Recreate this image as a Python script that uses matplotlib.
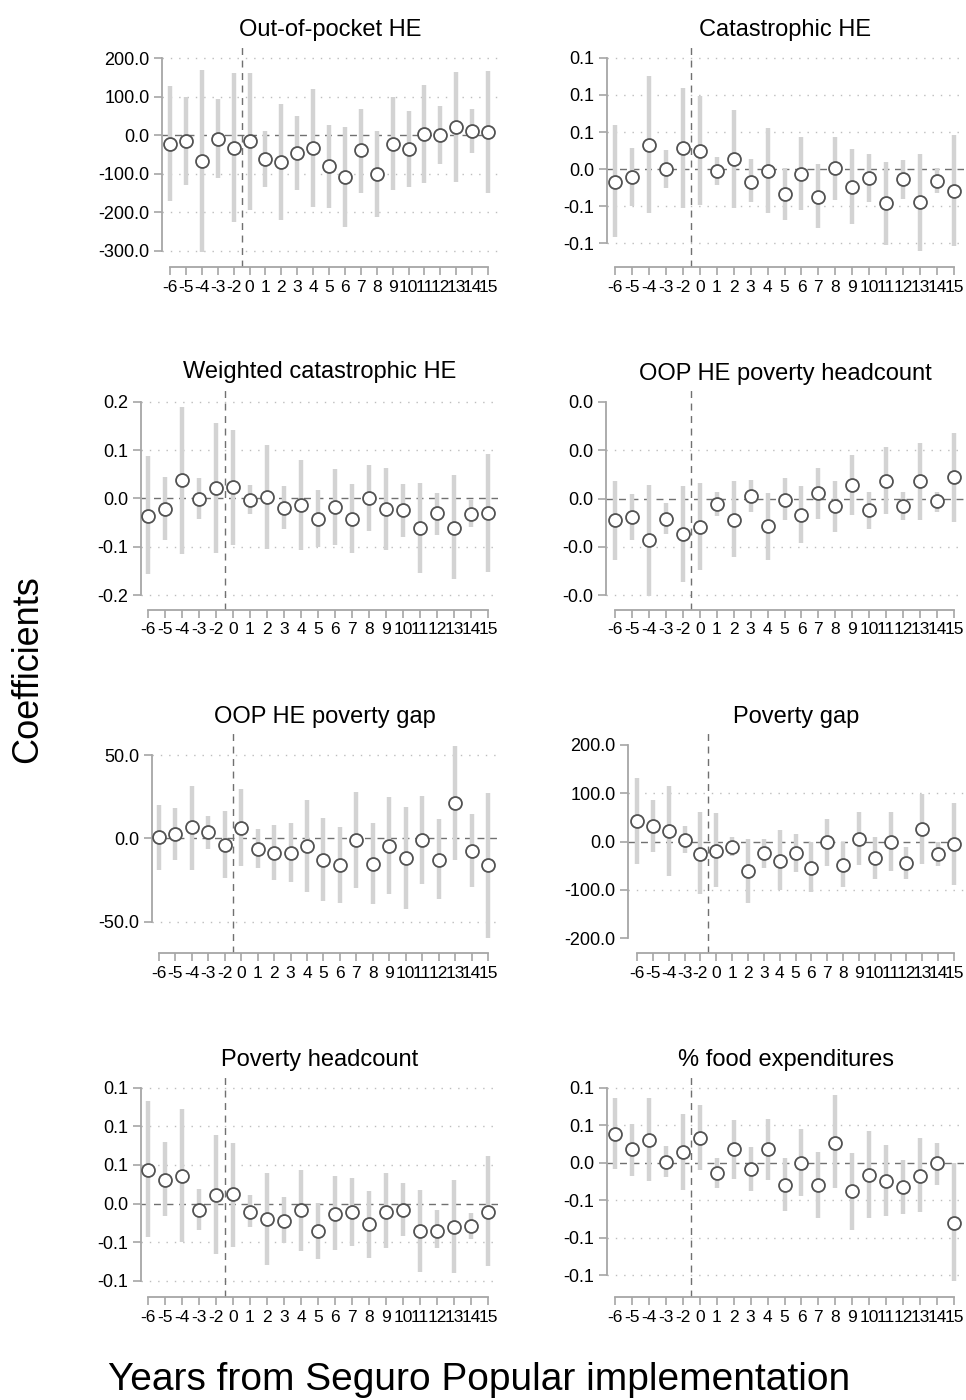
import matplotlib
matplotlib.use("Agg")
import matplotlib.pyplot as plt
import numpy as np

plt.rcParams['font.family'] = ['Liberation Sans', 'DejaVu Sans']

# Event time (year -1 is the omitted reference period)
years = [-6, -5, -4, -3, -2, 0, 1, 2, 3, 4, 5, 6, 7, 8, 9, 10, 11, 12, 13, 14, 15]
year_labels = [str(y) for y in years]

# Out-of-pocket health expenditure
oop_coef = [-22, -15, -67, -9, -32, -16, -61, -70, -45, -32, -81, -108, -39, -100, -22, -36, 3, 0, 20, 11, 9]
oop_hi = [127, 100, 169, 93, 160, 160, 11, 82, 50, 121, 26, 20, 69, 11, 100, 62, 130, 76, 165, 67, 166]
oop_lo = [-171, -130, -303, -110, -225, -193, -133, -221, -143, -186, -188, -237, -150, -211, -141, -133, -124, -75, -120, -46, -150]
oop_ticks = [200, 100, 0, -100, -200, -300]

# Catastrophic health expenditure
cat_coef = [-0.017, -0.011, 0.033, 0.0, 0.028, 0.025, -0.003, 0.013, -0.017, -0.002, -0.033, -0.007, -0.037, 0.001, -0.024, -0.012, -0.046, -0.014, -0.045, -0.016, -0.030]
cat_hi = [0.059, 0.028, 0.126, 0.026, 0.110, 0.098, 0.016, 0.079, 0.013, 0.056, 0.002, 0.043, 0.007, 0.043, 0.027, 0.021, 0.010, 0.012, 0.020, 0.001, 0.046]
cat_lo = [-0.092, -0.050, -0.059, -0.026, -0.053, -0.048, -0.021, -0.053, -0.044, -0.059, -0.068, -0.055, -0.080, -0.041, -0.074, -0.044, -0.102, -0.040, -0.110, -0.032, -0.104]
cat_ticks = [0.15, 0.10, 0.05, 0.0, -0.05, -0.10]

# Weighted catastrophic health expenditure
wcat_coef = [-0.036, -0.021, 0.038, -0.002, 0.022, 0.023, -0.003, 0.002, -0.019, -0.014, -0.042, -0.017, -0.043, 0.001, -0.021, -0.024, -0.062, -0.031, -0.061, -0.033, -0.030]
wcat_hi = [0.087, 0.045, 0.189, 0.042, 0.157, 0.142, 0.028, 0.111, 0.026, 0.080, 0.017, 0.062, 0.029, 0.069, 0.064, 0.029, 0.033, 0.012, 0.048, -0.003, 0.093]
wcat_lo = [-0.157, -0.085, -0.114, -0.042, -0.112, -0.096, -0.033, -0.105, -0.064, -0.107, -0.100, -0.096, -0.113, -0.067, -0.106, -0.080, -0.154, -0.075, -0.166, -0.060, -0.152]
wcat_ticks = [0.2, 0.1, 0.0, -0.1, -0.2]

# OOP HE poverty headcount
oph_coef = [-0.0045, -0.0038, -0.0085, -0.0043, -0.0074, -0.0059, -0.0012, -0.0044, 0.0005, -0.0057, -0.0003, -0.0035, 0.0012, -0.0016, 0.0028, -0.0024, 0.0037, -0.0016, 0.0036, -0.0006, 0.0044]
oph_hi = [0.0036, 0.0010, 0.0029, -0.0010, 0.0026, 0.0033, 0.0014, 0.0036, 0.0039, 0.0012, 0.0042, 0.0026, 0.0064, 0.0036, 0.0090, 0.0014, 0.0106, 0.0014, 0.0114, 0.0014, 0.0135]
oph_lo = [-0.0127, -0.0087, -0.0201, -0.0073, -0.0173, -0.0149, -0.0036, -0.0122, -0.0028, -0.0127, -0.0045, -0.0093, -0.0042, -0.0069, -0.0035, -0.0064, -0.0033, -0.0044, -0.0044, -0.0028, -0.0048]
oph_ticks = [0.02, 0.01, 0.0, -0.01, -0.02]

# OOP HE poverty gap
opg_coef = [1, 2.6, 6.6, 4, -3.6, 6.4, -6.4, -8.4, -8.4, -4.6, -12.6, -16, -1, -15.4, -4.4, -11.6, -1, -12.6, 21.4, -7.4, -16]
opg_hi = [20, 18.4, 31.6, 13.4, 16.6, 29.6, 5.4, 8, 9, 23, 12, 6.6, 27.6, 9, 25, 19, 25.6, 11.4, 55.6, 14.4, 27.4]
opg_lo = [-19, -13, -19, -6, -23.4, -16.6, -17.4, -25, -26, -32, -37.4, -38.6, -29.6, -39, -33.4, -42, -27, -36, -13, -29, -59.4]
opg_ticks = [50, 0, -50]

# Poverty gap
pg_coef = [43, 32, 22, 3, -26, -19, -12, -62, -24, -40, -24, -54, -1, -48, 5, -34, 0, -45, 26, -26, -5]
pg_hi = [131, 86, 115, 32, 62, 59, 10, 6, 6, 23, 16, 0, 47, 0, 61, 10, 61, -12, 99, 0, 79]
pg_lo = [-46, -22, -72, -24, -108, -94, -31, -128, -55, -101, -64, -105, -50, -95, -48, -78, -62, -77, -46, -50, -91]
pg_ticks = [200, 100, 0, -100, -200]

# Poverty headcount
ph_coef = [0.044, 0.031, 0.036, -0.008, 0.011, 0.012, -0.011, -0.020, -0.022, -0.009, -0.036, -0.013, -0.011, -0.026, -0.011, -0.009, -0.036, -0.035, -0.030, -0.029, -0.011]
ph_hi = [0.133, 0.080, 0.122, 0.019, 0.089, 0.079, 0.011, 0.040, 0.008, 0.044, 0.001, 0.036, 0.033, 0.016, 0.039, 0.026, 0.018, -0.009, 0.030, -0.012, 0.062]
ph_lo = [-0.043, -0.016, -0.050, -0.034, -0.065, -0.056, -0.030, -0.080, -0.051, -0.062, -0.072, -0.060, -0.055, -0.070, -0.058, -0.042, -0.089, -0.058, -0.090, -0.046, -0.081]
ph_ticks = [0.15, 0.10, 0.05, 0.0, -0.05, -0.10]

# Share of food expenditures
food_coef = [0.039, 0.018, 0.031, 0.001, 0.014, 0.033, -0.014, 0.018, -0.008, 0.018, -0.029, 0.0, -0.030, 0.027, -0.038, -0.016, -0.024, -0.032, -0.017, 0.0, -0.080]
food_hi = [0.087, 0.052, 0.086, 0.023, 0.065, 0.077, 0.006, 0.057, 0.021, 0.058, 0.007, 0.045, 0.014, 0.090, 0.013, 0.042, 0.024, 0.004, 0.033, 0.027, 0.0]
food_lo = [-0.008, -0.017, -0.024, -0.019, -0.036, -0.009, -0.034, -0.022, -0.038, -0.023, -0.064, -0.044, -0.073, -0.034, -0.089, -0.074, -0.071, -0.068, -0.065, -0.029, -0.158]
food_ticks = [0.10, 0.05, 0.0, -0.05, -0.10, -0.15]

titles = ["Out-of-pocket HE", "Catastrophic HE", "Weighted catastrophic HE",
          "OOP HE poverty headcount", "OOP HE poverty gap", "Poverty gap",
          "Poverty headcount", "% food expenditures"]

panels = [
    (oop_coef, oop_lo, oop_hi, oop_ticks, oop_ticks),
    (cat_coef, cat_lo, cat_hi, cat_ticks, cat_ticks),
    (wcat_coef, wcat_lo, wcat_hi, wcat_ticks, wcat_ticks),
    (oph_coef, oph_lo, oph_hi, oph_ticks, oph_ticks[1:]),
    (opg_coef, opg_lo, opg_hi, opg_ticks, opg_ticks),
    (pg_coef, pg_lo, pg_hi, pg_ticks, pg_ticks[1:-1]),
    (ph_coef, ph_lo, ph_hi, ph_ticks, ph_ticks),
    (food_coef, food_lo, food_hi, food_ticks, food_ticks),
]

# Layout in pixels: (left, top, right, bottom), x of first/last year tick, y limits
W, H = 966, 1400
frames = [
    ((162, 43, 498, 267), (170, 488), (-341.5, 238.9)),
    ((607, 43, 964, 267), (615, 954), (-0.132, 0.170)),
    ((141, 385, 498, 610), (148, 488), (-0.231, 0.235)),
    ((606, 387, 964, 610), (615, 954), (-0.0231, 0.0231)),
    ((152, 730, 498, 953), (159, 488), (-68.6, 65.0)),
    ((628, 730, 964, 953), (637, 954), (-231.0, 231.0)),
    ((141, 1073, 498, 1297), (148, 488), (-0.121, 0.169)),
    ((607, 1073, 964, 1297), (615, 954), (-0.179, 0.120)),
]

SPINE = '#a6a6a6'
BAR = '#d3d3d3'
EDGE = '#525252'
DASH = '#707070'
GRID = '#bdbdbd'

fig = plt.figure(figsize=(W / 100, H / 100), dpi=100)
fig.patch.set_facecolor('white')

idx = np.arange(len(years))
for title, (coef, lo, hi, ticks, grid), (box, xpix, ylim) in zip(titles, panels, frames):
    L, T, R, B = box
    ax = fig.add_axes([L / W, 1 - B / H, (R - L) / W, (B - T) / H])
    sp = (xpix[1] - xpix[0]) / (len(years) - 1)
    ax.set_xlim((L - xpix[0]) / sp, (R - xpix[0]) / sp)
    ax.set_ylim(*ylim)

    for g in grid:
        if g != 0:
            ax.axhline(g, color=GRID, lw=1.0, ls=(0, (1, 5)), zorder=0)
    ax.axhline(0, color=DASH, lw=1.0, ls=(0, (5, 4)), zorder=1)
    ax.axvline(4.5, color=DASH, lw=1.0, ls=(0, (5, 4)), zorder=1)

    ax.vlines(idx, lo, hi, color=BAR, lw=3.2, zorder=2, capstyle='butt')
    ax.plot(idx, coef, 'o', ms=9.3, mfc='white', mec=EDGE, mew=1.3, zorder=3)

    ax.set_yticks(ticks, labels=[f"{t:.1f}" for t in ticks])
    ax.set_xticks(idx, labels=year_labels)
    for s in ('top', 'right'):
        ax.spines[s].set_visible(False)
    for s in ('left', 'bottom'):
        ax.spines[s].set_color(SPINE)
        ax.spines[s].set_linewidth(1.3)
    ax.spines['left'].set_bounds(min(ticks), max(ticks))
    ax.spines['bottom'].set_bounds(idx[0], idx[-1])
    ax.tick_params(axis='both', colors=SPINE, labelcolor='black',
                   length=6, width=1.2, pad=3)
    ax.tick_params(axis='y', labelsize=13)
    ax.tick_params(axis='x', labelsize=12.5)
    ax.set_facecolor('none')
    ax.set_title(title, fontsize=17, pad=5)

fig.text(28 / W, 1 - 669 / H, "Coefficients", rotation=90, fontsize=26,
         ha='center', va='center')
fig.text(479 / W, 1 - 1380 / H, "Years from Seguro Popular implementation",
         fontsize=28, ha='center', va='center')

fig.savefig('out.png', dpi=100, facecolor='white')
